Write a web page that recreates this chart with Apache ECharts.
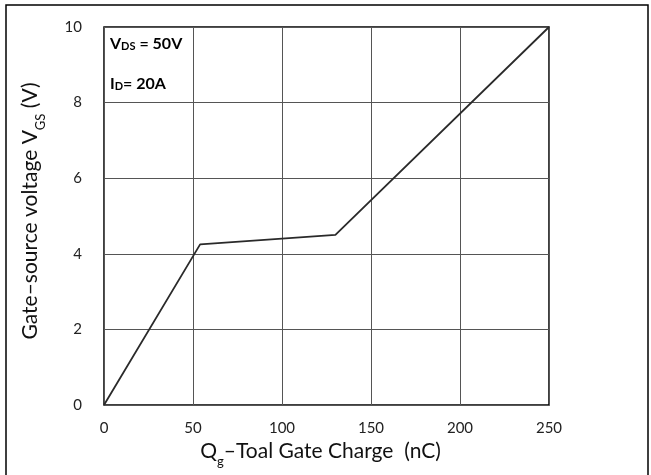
<!DOCTYPE html>
<html><head><meta charset="utf-8">
<script src="https://cdn.jsdelivr.net/npm/echarts@6/dist/echarts.min.js"></script>
<style>html,body{margin:0;padding:0;background:#fff}#c{width:651px;height:475px}</style>
</head><body><div id="c"></div>
<script>
var chargeNC = [0, 54, 130, 250];
var vgsV = [0, 4.25, 4.5, 10];
var xTicks = [0, 50, 100, 150, 200, 250];
var yTicks = [0, 2, 4, 6, 8, 10];

var pts = chargeNC.map(function(x, i){ return [x, vgsV[i]]; });
var chart = echarts.init(document.getElementById('c'));
var F = 'Lato, "Open Sans", sans-serif';
chart.setOption({
  animation: false,
  backgroundColor: '#fff',
  grid: {left: 104, right: 102, top: 27, bottom: 70, show: true, borderColor: '#000', borderWidth: 1.5},
  xAxis: {
    type: 'value', min: xTicks[0], max: xTicks[xTicks.length-1], interval: xTicks[1]-xTicks[0],
    axisLine: {show: false}, axisTick: {show: false},
    splitLine: {show: true, lineStyle: {color: '#555', width: 1}},
    axisLabel: {color: '#222', fontSize: 15, fontFamily: F, margin: 16},
    name: '{m|Q}{s|g}{m|–Toal Gate Charge  (nC)}', nameLocation: 'middle', nameGap: 23,
    nameTextStyle: {padding: [0, 12, 0, 0], rich: {m: {fontSize: 21, fontFamily: F, color: '#111'}, s: {fontSize: 13, fontFamily: F, color: '#111', verticalAlign: 'bottom', padding: [0,0,-6,0]}}}
  },
  yAxis: {
    type: 'value', min: yTicks[0], max: yTicks[yTicks.length-1], interval: yTicks[1]-yTicks[0],
    axisLine: {show: false}, axisTick: {show: false},
    splitLine: {show: true, lineStyle: {color: '#555', width: 1}},
    axisLabel: {color: '#222', fontSize: 15, fontFamily: F, margin: 22},
    name: '{m|Gate–source voltage V}{s|GS}{m| (V)}', nameLocation: 'middle', nameGap: 63,
    nameTextStyle: {padding: [0, 0, 0, 10], rich: {m: {fontSize: 21, fontFamily: F, color: '#111'}, s: {fontSize: 13, fontFamily: F, color: '#111', verticalAlign: 'bottom', padding: [0,0,-6,0]}}}
  },
  series: [{
    type: 'line', data: pts, symbol: 'none',
    lineStyle: {color: '#2a2a2a', width: 1.8}
  }],
  graphic: [
    {type: 'rect', shape: {x: 6, y: 5, width: 642, height: 480}, style: {fill: 'none', stroke: '#000', lineWidth: 1.5}, z: 10},
    {type: 'text', left: 110, top: 36, style: {rich: {b: {fontSize: 16, fontWeight: 'bold', fontFamily: F, fill: '#000'}, s: {fontSize: 11, fontWeight: 'bold', fontFamily: F, fill: '#000', verticalAlign: 'bottom'}}, text: '{b|V}{s|DS}{b| = 50V}'}},
    {type: 'text', left: 110, top: 76, style: {rich: {b: {fontSize: 16, fontWeight: 'bold', fontFamily: F, fill: '#000'}, s: {fontSize: 11, fontWeight: 'bold', fontFamily: F, fill: '#000', verticalAlign: 'bottom'}}, text: '{b|I}{s|D}{b|= 20A}'}}
  ]
});
</script></body></html>
